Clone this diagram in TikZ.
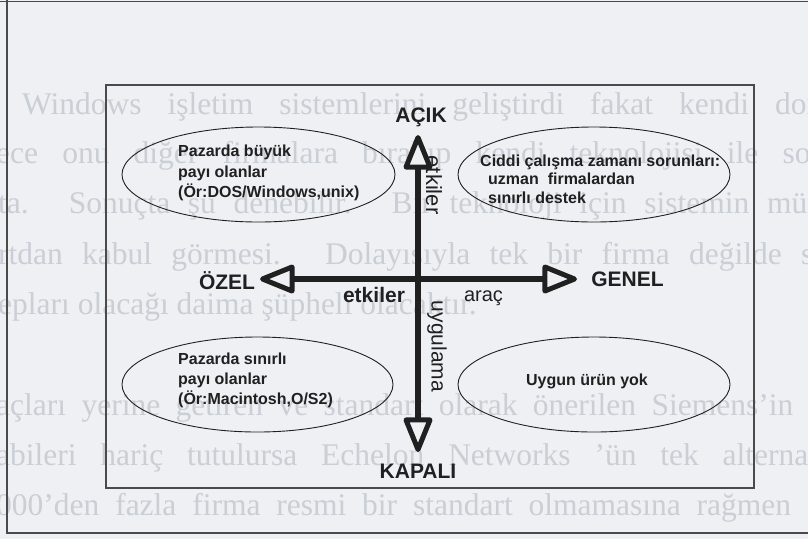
\documentclass[tikz,border=0pt]{standalone}
\usepackage{fontspec}
\setmainfont{Liberation Serif}
\setsansfont{Liberation Sans}
\usetikzlibrary{arrows.meta,shapes.geometric}
\definecolor{paper}{HTML}{EEF0F3}
\definecolor{ghost}{HTML}{CACED5}
\definecolor{ink}{HTML}{202020}
\definecolor{rule}{HTML}{4A4A4A}
\tikzset{
  pageline/.style={anchor=base west, inner sep=0pt, text=ghost, font=\fontsize{31.5}{31.5}\selectfont\rmfamily},
  frame/.style={draw=rule, line width=1.6pt},
  panel/.style={draw=rule, line width=1.4pt},
  bubble/.style={draw=ink, line width=0.9pt, ellipse, inner sep=0pt, outer sep=0pt},
  bubtext/.style={inner sep=0pt, align=left, text=ink, font=\sffamily\bfseries\fontsize{16}{20}\selectfont},
  pole/.style={inner sep=0pt, text=ink, font=\sffamily\bfseries\fontsize{21}{21}\selectfont},
  tag/.style={inner sep=0pt, text=ink, font=\sffamily\fontsize{21}{21}\selectfont},
  axis/.style={draw=ink, line width=6.5pt, -{Triangle[length=39pt, width=30pt, line width=5pt, fill=paper, round]}}
}
\begin{document}
\begin{tikzpicture}[x=1pt,y=-1pt]
\useasboundingbox (0,0) rectangle (808,539);
\clip (0,0) rectangle (808,539);
\fill[paper] (0,0) rectangle (808,539);

% text of the page printed behind the figure
\node[pageline] (p1) at (22,114) {\makebox[800pt][s]{Windows işletim sistemlerini geliştirdi fakat kendi don}};
\node[pageline] (p2) at (-4,163) {\makebox[830pt][s]{ece onu diğer firmalara bırakıp kendi teknolojisi ile son}};
\node[pageline] (p3) at (-2,213) {\makebox[830pt][s]{ta. Sonuçta şu denebilir. Bir teknoloji için sistemin müşt}};
\node[pageline] (p4) at (-2,264) {\makebox[815pt][s]{rtdan kabul görmesi. Dolayısıyla tek bir firma değilde s}};
\node[pageline] (p5) at (-2,314) {epları olacağı daima şüpheli olacaktır.};
\node[pageline] (p7) at (-4,415) {\makebox[830pt][s]{açları yerine getiren ve standart olarak önerilen Siemens’in P}};
\node[pageline] (p8) at (-4,465) {\makebox[840pt][s]{abileri hariç tutulursa Echelon Networks ’ün tek alternatif}};
\node[pageline] (p9) at (-4,515) {\makebox[830pt][s]{000’den fazla firma resmi bir standart olmamasına rağmen L}};

% page frame and figure panel
\draw[frame] (0,1.5) -- (808,1.5);
\draw[frame] (7,0) -- (7,533) -- (808,533);
\draw[panel] (106,85) rectangle (754,488);

% quadrant bubbles
\node[bubble, minimum width=273pt, minimum height=95pt] (ul) at (258.5,174.5) {};
\node[bubble, minimum width=272pt, minimum height=95pt] (ur) at (594,174.5) {};
\node[bubble, minimum width=271pt, minimum height=95pt] (ll) at (257.5,384.5) {};
\node[bubble, minimum width=272pt, minimum height=95pt] (lr) at (594,384.5) {};

\node[bubtext, anchor=west, font=\sffamily\bfseries\fontsize{16}{20.5}\selectfont] (ultext) at (178,173)
  {Pazarda büyük\\payı olanlar\\(Ör:DOS/Windows,unix)};
\node[bubtext, anchor=west, font=\sffamily\bfseries\fontsize{16}{18.5}\selectfont] (urtext) at (480,179)
  {Ciddi çalışma zamanı sorunları:\\\hspace*{8pt}uzman\ \ firmalardan\\\hspace*{8pt}sınırlı destek};
\node[bubtext, anchor=west] (lltext) at (178,380)
  {Pazarda sınırlı\\payı olanlar\\(Ör:Macintosh,O/S2)};
\node[bubtext] (lrtext) at (587,381) {Uygun ürün yok};

% pole labels
\node[pole, anchor=base] (acik) at (421,122) {AÇIK};
\node[pole, anchor=base] (ozel) at (227,289) {ÖZEL};
\node[pole, anchor=base] (genel) at (627.5,286) {GENEL};
\node[pole, anchor=base] (kapali) at (418,478) {KAPALI};

% axes: from the centre out to each arrow tip
\coordinate (o) at (418,279);
\coordinate (tipN) at (418,135);
\coordinate (tipS) at (418,452);
\coordinate (tipW) at (260,279);
\coordinate (tipE) at (577,279);
\draw[axis] (o) -- (tipN);
\draw[axis] (o) -- (tipS);
\draw[axis] (o) -- (tipW);
\draw[axis] (o) -- (tipE);

% axis annotations
\node[tag, anchor=base, font=\sffamily\bfseries\fontsize{21}{21}\selectfont] (etkh) at (374,302) {etkiler};
\node[tag, anchor=base, font=\sffamily\fontsize{20}{20}\selectfont] (arac) at (483.5,301) {araç};
\node[tag, rotate=-90, font=\sffamily\fontsize{22}{22}\selectfont] (etkv) at (434,185) {etkiler};
\node[tag, rotate=-90] (uyg) at (437,346.5) {uygulama};
\end{tikzpicture}
\end{document}
